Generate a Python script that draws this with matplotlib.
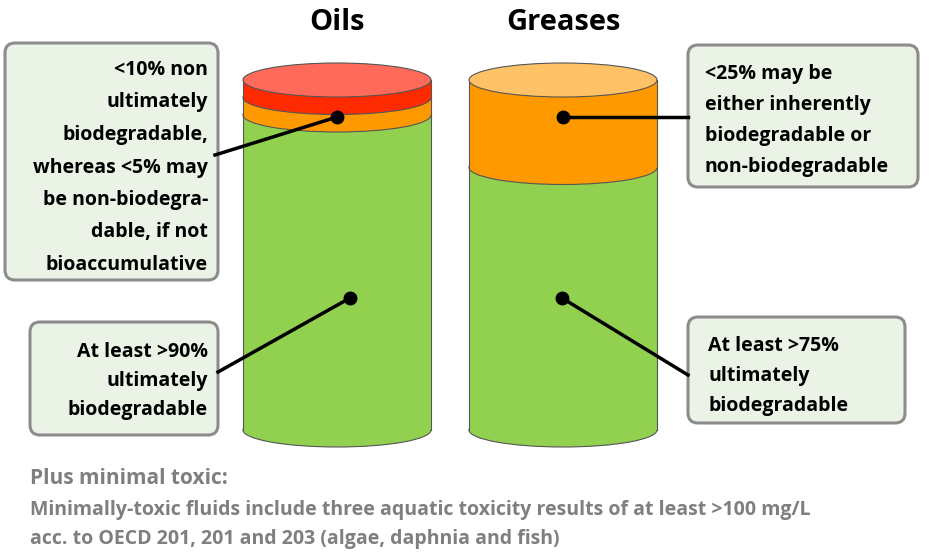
import matplotlib
matplotlib.use("Agg")
import matplotlib.pyplot as plt
from matplotlib.patches import Ellipse, FancyBboxPatch

plt.rcParams['font.family'] = ['Open Sans', 'DejaVu Sans']

categories = ["Oils", "Greases"]
oil_segments = [90, 5, 5]          # ultimately biodeg., inherently/non, non-ultimately
grease_segments = [75, 25]
oil_colors = ["#92D050", "#FF9900", "#FF2A00"]
grease_colors = ["#92D050", "#FF9900"]
top_colors = ["#FF6A5A", "#FFC266"]

box_texts = [
    ["<10% non", "ultimately", "biodegradable,", "whereas <5% may", "be non-biodegra-", "dable, if not", "bioaccumulative"],
    ["At least >90%", "ultimately", "biodegradable"],
    ["<25% may be", "either inherently", "biodegradable or", "non-biodegradable"],
    ["At least >75%", "ultimately", "biodegradable"],
]
footer = ["Plus minimal toxic:",
          "Minimally-toxic fluids include three aquatic toxicity results of at least >100 mg/L",
          "acc. to OECD 201, 201 and 203 (algae, daphnia and fish)"]

fig = plt.figure(figsize=(9.45, 5.55), dpi=100)
ax = fig.add_axes([0, 0, 1, 1])
ax.set_xlim(0, 945); ax.set_ylim(555, 0); ax.axis('off')

base, top = 430, 80
scale = (base - top) / 100.0
W, EH = 188, 34

def cylinder(xc, segs, cols, topc):
    bottom = base
    for i, (v, c) in enumerate(zip(segs, cols)):
        h = v * scale
        ax.add_patch(Ellipse((xc, bottom), W, EH, fc=c, ec="#555555", lw=0.8, zorder=2 + 2 * i))
        ax.bar(xc, -h, bottom=bottom, width=W, color=c, edgecolor="none", zorder=3 + 2 * i)
        ax.plot([xc - W / 2, xc - W / 2], [bottom, bottom - h], color="#555555", lw=0.8, zorder=3 + 2 * i)
        ax.plot([xc + W / 2, xc + W / 2], [bottom, bottom - h], color="#555555", lw=0.8, zorder=3 + 2 * i)
        bottom -= h
    ax.add_patch(Ellipse((xc, bottom), W, EH, fc=topc, ec="#555555", lw=0.8, zorder=20))

cylinder(337, oil_segments, oil_colors, top_colors[0])
cylinder(563, grease_segments, grease_colors, top_colors[1])

for xc, name in zip([337, 563], categories):
    ax.text(xc, 22, name, ha='center', va='center', fontsize=21, fontweight='bold', zorder=30)

def box(x0, y0, x1, y1, lines, align, tx, ty0, dy):
    ax.add_patch(FancyBboxPatch((x0, y0), x1 - x0, y1 - y0, boxstyle="round,pad=0,rounding_size=10",
                                fc="#EAF3E6", ec="#8C8C8C", lw=2.2, zorder=25))
    for k, t in enumerate(lines):
        ax.text(tx, ty0 + k * dy, t, ha=align, va='center', fontsize=14, fontweight='bold', zorder=30)

box(5, 43, 218, 280, box_texts[0], 'right', 208, 70, 32.5)
box(30, 322, 218, 435, box_texts[1], 'right', 208, 352, 29)
box(688, 45, 918, 187, box_texts[2], 'left', 705, 74, 31)
box(688, 317, 905, 423, box_texts[3], 'left', 708, 346, 30)

for (xa, ya), (xb, yb) in [((337, 117), (215, 155)), ((350, 298), (218, 372)),
                           ((563, 117), (688, 117)), ((562, 298), (688, 375))]:
    ax.plot([xa, xb], [ya, yb], color='black', lw=2.5, zorder=28)
    ax.plot(xa, ya, 'o', color='black', ms=9, zorder=29)

ax.text(30, 478, footer[0], fontsize=15, fontweight='bold', color='#7F7F7F', va='center')
ax.text(30, 510, footer[1], fontsize=14, fontweight='bold', color='#7F7F7F', va='center')
ax.text(30, 539, footer[2], fontsize=14, fontweight='bold', color='#7F7F7F', va='center')

fig.savefig("out.png", dpi=100)
